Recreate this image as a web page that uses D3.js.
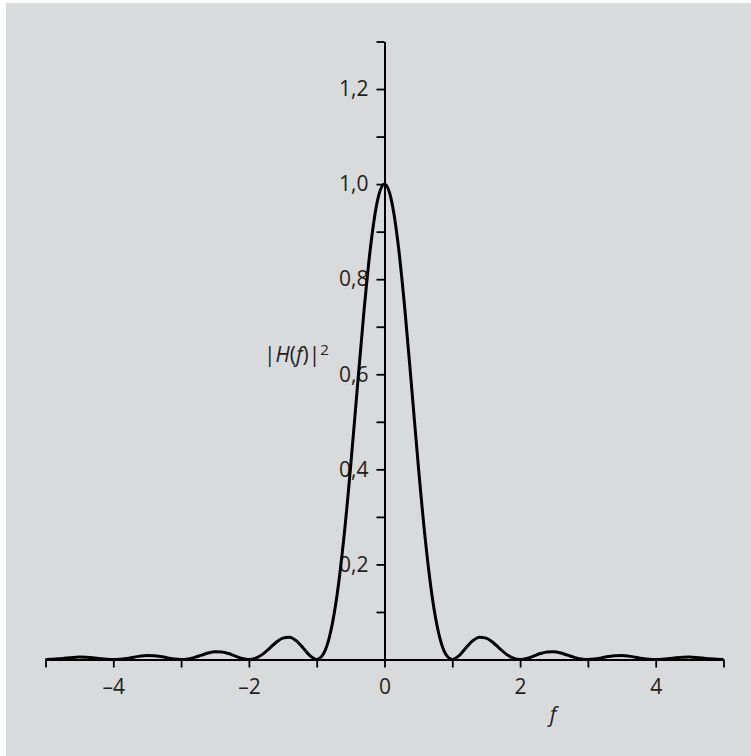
<!DOCTYPE html>
<html>
<head>
<meta charset="utf-8">
<script src="https://cdn.jsdelivr.net/npm/d3@7"></script>
<style>
  body { margin: 0; background: #fff; }
  text { font-family: "Open Sans", "Noto Sans", sans-serif; fill: #231f20; }
</style>
</head>
<body>
<div id="chart"></div>
<script>
// frequency samples (f) and |H(f)|^2
var fValues = [-5.0,-4.9,-4.8,-4.7,-4.6,-4.5,-4.4,-4.3,-4.2,-4.1,
  -4.0,-3.9,-3.8,-3.7,-3.6,-3.5,-3.4,-3.3,-3.2,-3.1,
  -3.0,-2.9,-2.8,-2.7,-2.6,-2.5,-2.4,-2.3,-2.2,-2.1,
  -2.0,-1.9,-1.8,-1.7,-1.6,-1.5,-1.4,-1.3,-1.2,-1.1,
  -1.0,-0.9,-0.8,-0.7,-0.6,-0.5,-0.4,-0.3,-0.2,-0.1,
  0.0,0.1,0.2,0.3,0.4,0.5,0.6,0.7,0.8,0.9,
  1.0,1.1,1.2,1.3,1.4,1.5,1.6,1.7,1.8,1.9,
  2.0,2.1,2.2,2.3,2.4,2.5,2.6,2.7,2.8,2.9,
  3.0,3.1,3.2,3.3,3.4,3.5,3.6,3.7,3.8,3.9,
  4.0,4.1,4.2,4.3,4.4,4.5,4.6,4.7,4.8,4.9,5.0];
var hValues = [0,0.0004,0.0015,0.0030,0.0043,0.0050,0.0047,0.0036,0.0020,0.0006,
  0,0.0006,0.0024,0.0048,0.0071,0.0083,0.0079,0.0061,0.0034,0.0010,
  0,0.0012,0.0045,0.0091,0.0136,0.0162,0.0159,0.0125,0.0072,0.0022,
  0,0.0027,0.0108,0.0230,0.0358,0.0450,0.0468,0.0392,0.0243,0.0080,
  0,0.0119,0.0547,0.1353,0.2546,0.4053,0.5728,0.7368,0.8751,0.9675,
  1.0,
  0.9675,0.8751,0.7368,0.5728,0.4053,0.2546,0.1353,0.0547,0.0119,0,
  0.0080,0.0243,0.0392,0.0468,0.0450,0.0358,0.0230,0.0108,0.0027,0,
  0.0022,0.0072,0.0125,0.0159,0.0162,0.0136,0.0091,0.0045,0.0012,0,
  0.0010,0.0034,0.0061,0.0079,0.0083,0.0071,0.0048,0.0024,0.0006,0,
  0.0006,0.0020,0.0036,0.0047,0.0050,0.0043,0.0030,0.0015,0.0004,0];

var xTicks = [-5,-4,-3,-2,-1,0,1,2,3,4,5];
var xLabels = [-4,-2,0,2,4];
var yTicks = [0.1,0.2,0.3,0.4,0.5,0.6,0.7,0.8,0.9,1.0,1.1,1.2,1.3];
var yLabels = [0.2,0.4,0.6,0.8,1.0,1.2];

var data = fValues.map(function(f,i){ return {f: f, h: hValues[i]}; });

var W = 751, H = 756;
var svg = d3.select('#chart').append('svg')
    .attr('width', W)
    .attr('height', H);

// grey panel
svg.append('rect')
    .attr('x', 6).attr('y', 3)
    .attr('width', W - 6).attr('height', H - 3)
    .attr('fill', '#d9dadc');

var scaleX = d3.scaleLinear().domain([-5,5]).range([45.5,723.5]);
var scaleY = d3.scaleLinear().domain([0,1.3]).range([659.5,41.5]);

// axes cross at the origin
var axisX = d3.axisBottom(scaleX)
    .tickValues(xTicks)
    .tickSizeInner(8).tickSizeOuter(0).tickPadding(12)
    .tickFormat(function(d){
        if (xLabels.indexOf(d) < 0) return '';
        return d < 0 ? '\u2013' + Math.abs(d) : d;
    });
var axisY = d3.axisLeft(scaleY)
    .tickValues(yTicks)
    .tickSizeInner(8).tickSizeOuter(0).tickPadding(8)
    .tickFormat(function(d){
        var hit = yLabels.some(function(v){ return Math.abs(v - d) < 1e-6; });
        return hit ? d3.format('.1f')(d).replace('.', ',') : '';
    });

var gx = svg.append('g')
    .attr('transform', 'translate(0,' + scaleY(0) + ')')
    .call(axisX);
var gy = svg.append('g')
    .attr('transform', 'translate(' + scaleX(0) + ',0)')
    .call(axisY);

[gx, gy].forEach(function(g){
    g.select('.domain').attr('stroke', '#000').attr('stroke-width', 2);
    g.selectAll('.tick line').attr('stroke', '#000').attr('stroke-width', 1.8);
    g.selectAll('.tick text')
        .attr('font-family', '"Open Sans", "Noto Sans", sans-serif')
        .attr('font-size', 21)
        .attr('fill', '#231f20');
});

// the curve
var line = d3.line()
    .x(function(d){ return scaleX(d.f); })
    .y(function(d){ return scaleY(d.h); })
    .curve(d3.curveMonotoneX);

svg.append('path')
    .datum(data)
    .attr('fill', 'none')
    .attr('stroke', '#000')
    .attr('stroke-width', 3)
    .attr('stroke-linejoin', 'round')
    .attr('d', line);

// axis titles
var yt = svg.append('text')
    .attr('x', 264).attr('y', 362)
    .attr('font-size', 21);
yt.append('tspan').text('|');
yt.append('tspan').attr('font-style', 'italic').text('H');
yt.append('tspan').text('(');
yt.append('tspan').attr('font-style', 'italic').text('f');
yt.append('tspan').text(')|');
yt.append('tspan').attr('font-size', 15).attr('dy', -7).text('2');

svg.append('text')
    .attr('x', 553).attr('y', 722)
    .attr('text-anchor', 'middle')
    .attr('font-size', 21)
    .attr('font-style', 'italic')
    .text('f');
</script>
</body>
</html>
